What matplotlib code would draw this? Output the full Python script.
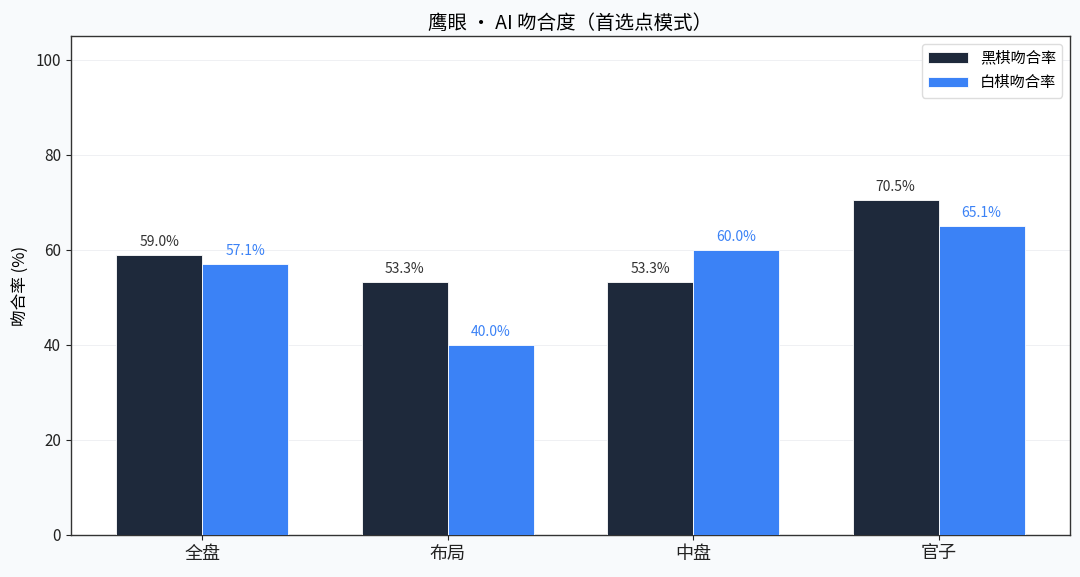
import matplotlib
matplotlib.use("Agg")
import matplotlib.pyplot as plt
import numpy as np

plt.rcParams['font.family'] = ['Noto Sans CJK SC', 'DejaVu Sans']

categories = ["全盘", "布局", "中盘", "官子"]
black_rate = [59.0, 53.3, 53.3, 70.5]
white_rate = [57.1, 40.0, 60.0, 65.1]
series_names = ["黑棋吻合率", "白棋吻合率"]
title = "鹰眼 · AI 吻合度（首选点模式）"
ylabel = "吻合率 (%)"

c_black = "#1e293b"
c_white = "#3b82f6"

fig = plt.figure(figsize=(10.8, 5.77), dpi=100, facecolor="#f8fafc")
ax = fig.add_axes([0.0657, 0.0728, 0.925, 0.8648])
ax.set_facecolor("white")

x = np.arange(len(categories))
w = 0.35
b1 = ax.bar(x - w/2, black_rate, w, color=c_black, edgecolor="white", linewidth=0.6, label=series_names[0], zorder=3)
b2 = ax.bar(x + w/2, white_rate, w, color=c_white, edgecolor="white", linewidth=0.6, label=series_names[1], zorder=3)

for rect, v in zip(b1, black_rate):
    ax.text(rect.get_x() + rect.get_width()/2, v + 1.2, f"{v:.1f}%", ha="center", va="bottom",
            fontsize=10, color="#333333")
for rect, v in zip(b2, white_rate):
    ax.text(rect.get_x() + rect.get_width()/2, v + 1.2, f"{v:.1f}%", ha="center", va="bottom",
            fontsize=10, color=c_white)

ax.set_ylim(0, 105)
ax.set_yticks([0, 20, 40, 60, 80, 100])
ax.set_xticks(x)
ax.set_xticklabels(categories, fontsize=13)
ax.tick_params(axis="y", labelsize=11, colors="#222222")
ax.tick_params(axis="x", colors="#222222")
ax.set_ylabel(ylabel, fontsize=12)
ax.set_title(title, fontsize=14, pad=5)
ax.yaxis.grid(True, color="#e5e7eb", linewidth=0.6, alpha=0.7, zorder=0)
ax.set_axisbelow(True)
for s in ax.spines.values():
    s.set_color("#333333")
    s.set_linewidth(1.0)

ax.legend(loc="upper right", fontsize=11, framealpha=1, edgecolor="#dddddd", handlelength=2.6)

fig.savefig("out.png", dpi=100, facecolor=fig.get_facecolor())
